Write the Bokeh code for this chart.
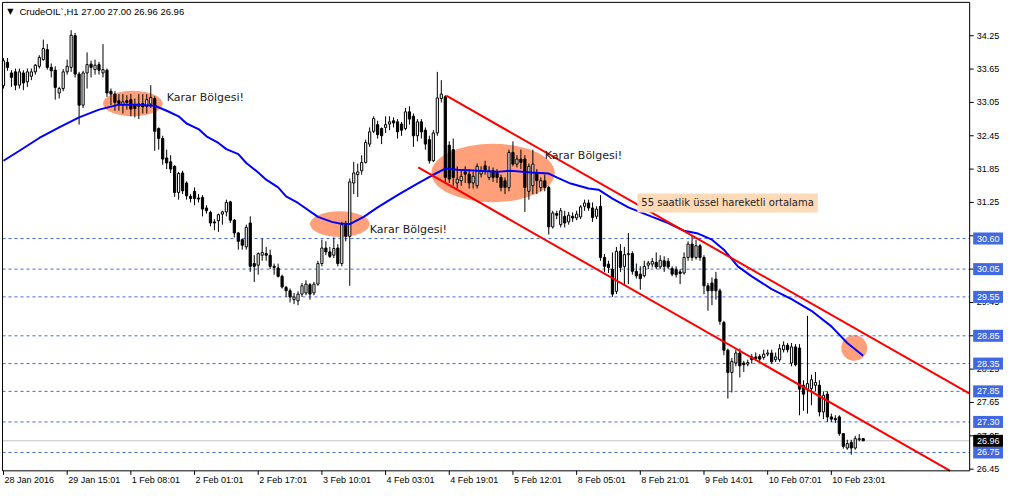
import numpy as np
from bokeh.plotting import figure
from bokeh.models import Range1d, Label
from bokeh.core.properties import value
from bokeh.embed import file_html
from bokeh.resources import INLINE

# ---------------- data (H1 candles, CrudeOIL) ----------------
opens = [33.35, 33.77, 33.58, 33.60, 33.36, 33.58, 33.42, 33.52, 33.60, 33.70,
         33.82, 34.00, 33.68, 33.63, 33.22, 33.30, 33.60, 33.68, 34.25, 33.56,
         33.00, 33.58, 33.74, 33.64, 33.73, 33.58, 33.63, 33.25, 33.20, 33.08,
         33.00, 33.08, 33.10, 33.00, 32.98, 33.03, 32.98, 33.02, 33.12, 32.58,
         32.40, 32.05, 31.98, 31.90, 31.43, 31.78, 31.60, 31.36, 31.45, 31.33,
         31.34, 31.15, 31.07, 30.90, 30.92, 31.04, 31.08, 31.26, 30.93, 30.70,
         30.58, 30.45, 30.88, 30.15, 30.12, 30.30, 30.33, 30.30, 30.10, 30.07,
         29.92, 29.72, 29.66, 29.50, 29.48, 29.60, 29.62, 29.77, 29.62, 29.78,
         30.15, 30.43, 30.36, 30.30, 30.43, 30.15, 30.85, 30.64, 31.60, 31.75,
         31.82, 31.97, 32.30, 32.53, 32.65, 32.58, 32.60, 32.66, 32.72, 32.70,
         32.66, 32.58, 32.88, 32.80, 32.45, 32.70, 32.55, 32.38, 32.00, 32.50,
         33.12, 33.15, 32.28, 32.20, 31.60, 31.64, 31.80, 31.76, 31.60, 31.55,
         31.76, 31.91, 31.70, 31.82, 31.79, 31.70, 31.64, 31.52, 32.15, 31.94,
         32.03, 32.03, 31.45, 31.55, 31.79, 31.52, 31.64, 31.52, 30.81, 31.05,
         30.85, 31.00, 30.90, 31.00, 30.97, 30.99, 31.18, 31.24, 31.15, 31.00,
         31.18, 30.26, 30.14, 30.05, 29.65, 30.37, 30.10, 30.31, 30.33, 30.01,
         29.96, 29.93, 30.12, 30.14, 30.17, 30.09, 30.20, 30.19, 30.06, 30.04,
         30.00, 29.98, 30.26, 30.50, 30.26, 30.47, 30.26, 29.75, 29.80, 29.87,
         29.66, 29.09, 28.59, 28.19, 28.36, 28.54, 28.36, 28.34, 28.47, 28.47,
         28.48, 28.46, 28.52, 28.54, 28.42, 28.42, 28.60, 28.68, 28.36, 28.65,
         28.63, 27.96, 27.88, 27.90, 27.96, 27.96, 27.48, 27.80, 27.39, 27.36,
         27.39, 27.09, 26.83, 26.93, 26.83, 26.98, 27.00]
highs = [33.85, 33.85, 33.63, 33.66, 33.66, 33.63, 33.66, 33.66, 33.74, 33.90,
         34.18, 34.10, 33.75, 33.70, 33.33, 33.65, 33.82, 34.35, 34.30, 33.60,
         33.62, 33.95, 33.80, 33.82, 33.78, 34.10, 33.66, 33.30, 33.25, 33.20,
         33.20, 33.18, 33.20, 33.12, 33.20, 33.20, 33.20, 33.36, 33.16, 32.60,
         32.45, 32.20, 32.10, 31.92, 31.80, 31.82, 31.63, 31.40, 31.52, 31.40,
         31.38, 31.20, 31.10, 30.95, 31.05, 31.10, 31.30, 31.28, 30.95, 30.72,
         30.60, 30.85, 31.00, 30.30, 30.35, 30.60, 30.45, 30.40, 30.15, 30.15,
         29.95, 29.75, 29.70, 29.62, 29.65, 29.80, 29.85, 29.80, 29.82, 30.20,
         30.58, 30.55, 30.45, 30.62, 30.50, 30.90, 30.92, 31.68, 31.98, 31.95,
         32.10, 32.38, 32.60, 32.80, 32.72, 32.60, 32.80, 32.80, 32.78, 32.75,
         32.70, 32.95, 32.98, 32.85, 32.75, 32.75, 32.60, 32.45, 32.55, 33.60,
         33.45, 33.18, 32.35, 32.40, 31.90, 31.85, 31.90, 31.85, 31.80, 31.95,
         31.90, 32.00, 31.90, 31.88, 31.85, 31.75, 31.70, 32.20, 32.35, 32.10,
         32.20, 32.10, 31.95, 32.20, 31.85, 31.70, 31.75, 31.55, 31.10, 31.10,
         31.15, 31.10, 31.08, 31.07, 31.10, 31.20, 31.30, 31.30, 31.25, 31.18,
         31.38, 30.32, 30.20, 30.35, 30.45, 30.50, 30.45, 30.70, 30.37, 30.15,
         30.10, 30.20, 30.20, 30.25, 30.35, 30.30, 30.28, 30.25, 30.10, 30.10,
         30.05, 30.35, 30.55, 30.65, 30.58, 30.50, 30.30, 29.80, 29.90, 30.00,
         29.70, 29.12, 28.62, 28.45, 28.60, 28.62, 28.40, 28.42, 28.52, 28.55,
         28.52, 28.60, 28.60, 28.60, 28.55, 28.70, 28.75, 28.72, 28.72, 28.70,
         28.70, 28.05, 29.21, 28.15, 28.20, 28.05, 27.85, 27.85, 27.45, 27.42,
         27.42, 27.10, 26.98, 26.98, 27.05, 27.08, 27.00]
lows = [33.30, 33.62, 33.33, 33.27, 33.30, 33.27, 33.33, 33.45, 33.55, 33.66,
        33.80, 33.64, 33.50, 33.10, 33.12, 33.25, 33.55, 33.60, 33.50, 32.65,
        32.95, 33.30, 33.50, 33.55, 33.55, 33.50, 33.15, 33.00, 32.90, 32.90,
        32.85, 32.92, 32.80, 32.78, 32.75, 32.85, 32.85, 32.95, 32.18, 32.20,
        31.93, 31.85, 31.78, 31.35, 31.30, 31.40, 31.30, 31.25, 31.20, 31.25,
        31.00, 31.05, 30.82, 30.75, 30.72, 30.85, 31.00, 30.88, 30.62, 30.40,
        30.40, 30.40, 30.00, 29.82, 29.95, 30.20, 30.20, 30.05, 29.95, 29.90,
        29.70, 29.55, 29.45, 29.42, 29.40, 29.55, 29.58, 29.50, 29.58, 29.75,
        30.10, 30.30, 30.25, 30.25, 30.10, 30.10, 30.55, 29.75, 31.40, 31.35,
        31.75, 31.95, 32.25, 32.50, 32.40, 32.30, 32.50, 32.55, 32.60, 32.40,
        32.45, 32.55, 32.65, 32.25, 32.35, 32.40, 32.20, 31.95, 31.98, 32.45,
        33.05, 31.60, 31.60, 31.55, 31.50, 31.55, 31.60, 31.50, 31.50, 31.50,
        31.70, 31.75, 31.65, 31.62, 31.60, 31.45, 31.40, 31.45, 31.90, 31.88,
        31.85, 31.08, 31.30, 31.40, 31.40, 31.45, 31.45, 30.67, 30.78, 30.95,
        30.80, 30.80, 30.85, 30.90, 30.93, 30.95, 31.10, 31.10, 30.90, 30.95,
        30.20, 30.00, 29.98, 29.55, 29.60, 30.00, 29.75, 29.78, 29.95, 29.88,
        29.68, 29.90, 30.05, 30.08, 30.05, 30.05, 30.00, 30.05, 29.92, 29.90,
        29.78, 29.95, 30.20, 30.20, 30.22, 30.20, 29.60, 29.30, 29.40, 29.50,
        29.05, 28.50, 27.72, 27.83, 28.30, 28.10, 28.20, 28.30, 28.35, 28.40,
        28.38, 28.42, 28.48, 28.35, 28.38, 28.38, 28.55, 28.55, 28.30, 28.30,
        27.42, 27.50, 27.45, 27.60, 27.85, 27.40, 27.35, 27.30, 27.30, 27.28,
        27.05, 26.82, 26.80, 26.71, 26.80, 26.95, 26.96]
closes = [33.80, 33.68, 33.50, 33.36, 33.60, 33.40, 33.60, 33.60, 33.72, 33.86,
          34.02, 33.68, 33.62, 33.32, 33.30, 33.60, 33.70, 34.26, 33.56, 33.00,
          33.58, 33.73, 33.68, 33.72, 33.63, 33.64, 33.22, 33.20, 33.05, 33.03,
          33.06, 33.05, 32.93, 32.94, 33.02, 32.97, 33.10, 33.14, 32.53, 32.40,
          32.03, 31.96, 31.85, 31.43, 31.77, 31.46, 31.37, 31.32, 31.32, 31.31,
          31.13, 31.10, 30.88, 30.88, 31.03, 31.08, 31.25, 30.93, 30.70, 30.55,
          30.48, 30.80, 30.10, 30.10, 30.33, 30.35, 30.30, 30.10, 30.08, 29.92,
          29.73, 29.66, 29.55, 29.55, 29.60, 29.75, 29.78, 29.60, 29.78, 30.15,
          30.43, 30.36, 30.28, 30.42, 30.15, 30.85, 30.64, 31.62, 31.78, 31.80,
          31.97, 32.33, 32.52, 32.76, 32.47, 32.45, 32.65, 32.70, 32.68, 32.52,
          32.55, 32.88, 32.75, 32.45, 32.70, 32.52, 32.30, 32.00, 32.50, 33.13,
          33.20, 31.70, 31.67, 31.70, 31.67, 31.72, 31.76, 31.60, 31.72, 31.90,
          31.82, 31.82, 31.82, 31.70, 31.70, 31.52, 31.52, 32.15, 31.94, 32.03,
          31.97, 31.52, 31.90, 31.94, 31.64, 31.64, 31.52, 30.81, 31.06, 31.02,
          31.10, 30.88, 31.02, 30.97, 31.04, 31.17, 31.24, 31.15, 30.98, 31.13,
          30.26, 30.10, 30.08, 29.60, 30.37, 30.08, 30.31, 30.33, 30.01, 29.93,
          29.88, 30.10, 30.16, 30.19, 30.09, 30.21, 30.10, 30.09, 29.96, 29.95,
          29.97, 30.26, 30.50, 30.26, 30.47, 30.26, 29.75, 29.66, 29.66, 29.66,
          29.11, 28.59, 28.19, 28.39, 28.54, 28.31, 28.33, 28.37, 28.42, 28.44,
          28.43, 28.52, 28.54, 28.38, 28.47, 28.62, 28.68, 28.60, 28.65, 28.33,
          27.89, 27.80, 27.99, 28.06, 28.01, 27.48, 27.78, 27.39, 27.35, 27.34,
          27.09, 26.86, 26.91, 26.83, 27.00, 27.00, 26.96]

# 55-hour exponential moving average (bar index, price)
ema_bars = [0, 4, 9, 14, 19, 24, 29, 34, 38, 41, 44, 46, 49, 51, 54, 56, 59, 61, 64, 66,
            69, 71, 74, 79, 82.5, 84.5, 87, 90.5, 94, 99, 104, 107.5, 111, 114, 119, 124,
            127.5, 132.5, 137, 139, 142.5, 147, 149.5, 153, 157, 163, 167, 171, 174.5, 178,
            181, 184.5, 188, 193, 198, 203, 208, 212, 216]
ema_values = [32.00, 32.18, 32.41, 32.60, 32.78, 32.92, 33.01, 33.01, 32.99, 32.90,
              32.80, 32.67, 32.57, 32.44, 32.32, 32.21, 32.12, 31.96, 31.79, 31.66,
              31.52, 31.36, 31.24, 30.99, 30.90, 30.87, 30.86, 30.99, 31.16, 31.38,
              31.59, 31.73, 31.86, 31.84, 31.82, 31.80, 31.82, 31.79, 31.77, 31.70,
              31.59, 31.50, 31.48, 31.32, 31.16, 30.99, 30.88, 30.74, 30.69, 30.58,
              30.40, 30.10, 29.92, 29.69, 29.51, 29.30, 29.02, 28.72, 28.49]

date_tick_bars = [0, 16, 32, 48, 64, 80, 96, 112, 128, 144, 160, 176, 192, 208]
date_tick_labels = ["28 Jan 2016", "29 Jan 15:01", "1 Feb 08:01", "2 Feb 01:01",
                    "2 Feb 17:01", "3 Feb 10:01", "4 Feb 03:01", "4 Feb 19:01",
                    "5 Feb 12:01", "8 Feb 05:01", "8 Feb 21:01", "9 Feb 14:01",
                    "10 Feb 07:01", "10 Feb 23:01"]

price_ticks = [34.25, 33.65, 33.05, 32.45, 31.85, 31.25, 30.65, 30.05, 29.45,
               28.85, 28.25, 27.65, 27.05, 26.45]
hidden_ticks = [30.65, 30.05, 28.85]

level_prices = [30.60, 30.05, 29.55, 28.85, 28.35, 27.85, 27.30, 26.75]
bid_price = 26.96
header_text = "CrudeOIL`,H1  27.00 27.00 26.96 26.96"

channel_upper_bars = [111.25, 242.75]
channel_upper_prices = [33.17, 27.81]
channel_lower_bars = [104.2, 237.86]
channel_lower_prices = [31.88, 26.42]

zone_bars = [32.5, 84.5, 123.0, 213.75]
zone_prices = [33.03, 30.86, 31.78, 28.63]
zone_widths = [15.0, 15.0, 31.0, 6.5]
zone_heights = [0.46, 0.46, 1.05, 0.46]

note_text = "Karar Bölgesi!"
note_bars = [41.0, 92.0, 136.0]
note_prices = [33.13, 30.77, 32.10]
ema_note_text = "55 saatlik üssel hareketli ortalama"
ema_note_bar = 159.25
ema_note_price = 31.24

# ---------------- geometry of the MT4 window ----------------
X0, X1 = -0.75, 251.25          # whole canvas, in bar units
Y0, Y1 = 26.12, 34.884          # whole canvas, in price units
CH_L, CH_R = -0.25, 242.75      # chart box
CH_B, CH_T = 26.42, 34.85
PX_X = 1003.0 / (X1 - X0)       # pixels per bar
PX_Y = 487.0 / (Y1 - Y0)        # pixels per price unit
AXIS_FONT = value("Liberation Sans")
AXIS_SIZE = "9px"

p = figure(width=1003, height=487, output_backend="svg", toolbar_location=None,
           x_range=Range1d(X0, X1), y_range=Range1d(Y0, Y1),
           x_axis_location=None, y_axis_location=None,
           min_border=0)
p.xgrid.visible = False
p.ygrid.visible = False
p.outline_line_color = None
p.background_fill_color = "white"
p.border_fill_color = "white"

# background zones
p.ellipse(x=zone_bars, y=zone_prices, width=zone_widths, height=zone_heights,
          fill_color="#FFA07A", line_color=None)

# horizontal levels
n_lv = len(level_prices)
p.segment(x0=[CH_L] * n_lv, y0=level_prices, x1=[CH_R] * n_lv, y1=level_prices,
          line_color="#4169E1", line_width=1, line_dash="3 3")
p.segment(x0=[CH_L], y0=[bid_price], x1=[CH_R], y1=[bid_price],
          line_color="#C0C0C0", line_width=1)

# candles
idx = np.arange(len(closes))
o = np.array(opens); c = np.array(closes)
h = np.array(highs); l = np.array(lows)
up = c >= o
p.segment(x0=idx, y0=l, x1=idx, y1=h, line_color="black", line_width=1)
p.vbar(x=idx[up], width=0.55, top=c[up], bottom=o[up],
       fill_color="white", line_color="black", line_width=1)
p.vbar(x=idx[~up], width=0.55, top=o[~up], bottom=c[~up],
       fill_color="black", line_color="black", line_width=1)

# EMA and channel
p.line(ema_bars, ema_values, line_color="#0000FF", line_width=2)
p.line(channel_upper_bars, channel_upper_prices, line_color="#FF0000", line_width=2)
p.line(channel_lower_bars, channel_lower_prices, line_color="#FF0000", line_width=2)

# chart frame
p.line([CH_L, CH_L, CH_R, CH_R, CH_L], [CH_T, CH_B, CH_B, CH_T, CH_T],
       line_color="black", line_width=1)

# price scale (right)
tick_len_x = 4.0 / PX_X
p.segment(x0=[CH_R] * len(price_ticks), y0=price_ticks,
          x1=[CH_R + tick_len_x] * len(price_ticks), y1=price_ticks,
          line_color="black", line_width=1)
shown = [t for t in price_ticks if t not in hidden_ticks]
p.text(x=[CH_R + 7.0 / PX_X] * len(shown), y=shown, text=["%.2f" % t for t in shown],
       text_font=AXIS_FONT, text_font_size=AXIS_SIZE, text_color="black",
       text_align="left", text_baseline="middle")

# level boxes on the price scale
box_x = CH_R + 18.5 / PX_X
box_w = 30.0 / PX_X
box_h = 12.0 / PX_Y
p.rect(x=[box_x] * n_lv, y=level_prices, width=box_w, height=box_h,
       fill_color="#4169E1", line_color=None)
p.text(x=[box_x] * n_lv, y=level_prices, text=["%.2f" % v for v in level_prices],
       text_font=AXIS_FONT, text_font_size=AXIS_SIZE, text_color="white",
       text_align="center", text_baseline="middle")
p.rect(x=[box_x], y=[bid_price], width=box_w, height=box_h,
       fill_color="black", line_color=None)
p.text(x=[box_x], y=[bid_price], text=["%.2f" % bid_price],
       text_font=AXIS_FONT, text_font_size=AXIS_SIZE, text_color="white",
       text_align="center", text_baseline="middle")

# time scale (bottom)
tick_len_y = 4.0 / PX_Y
n_dt = len(date_tick_bars)
p.segment(x0=date_tick_bars, y0=[CH_B] * n_dt, x1=date_tick_bars, y1=[CH_B - tick_len_y] * n_dt,
          line_color="black", line_width=1)
p.text(x=[b + 1.0 / PX_X for b in date_tick_bars], y=[CH_B - 4.0 / PX_Y] * n_dt,
       text=date_tick_labels, text_font=AXIS_FONT, text_font_size=AXIS_SIZE,
       text_color="black", text_align="left", text_baseline="top")

# annotations
p.text(x=note_bars, y=note_prices, text=[note_text] * len(note_bars),
       text_font=value("DejaVu Sans"), text_font_size="11px", text_color="#222222",
       text_align="left", text_baseline="middle")
p.add_layout(Label(x=ema_note_bar, y=ema_note_price, text=ema_note_text, text_align="left",
                   text_baseline="middle", text_font="DejaVu Sans", text_font_size="10px",
                   text_color="#222222", background_fill_color="#FFDAB9", padding=4))

# header
p.text(x=[1.75], y=[34.69], text=["▼"], text_font=value("DejaVu Sans"), text_font_size="8px",
       text_color="black", text_align="center", text_baseline="middle")
p.text(x=[4.0], y=[34.69], text=[header_text], text_font=AXIS_FONT, text_font_size="9.5px",
       text_color="black", text_align="left", text_baseline="middle")

open("out.html", "w").write(file_html(p, INLINE))
